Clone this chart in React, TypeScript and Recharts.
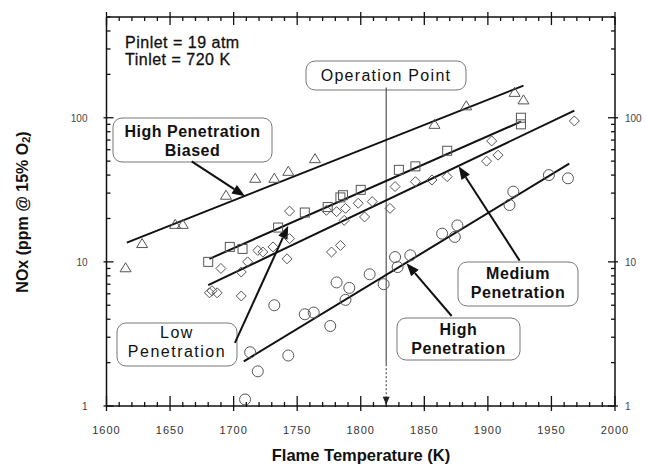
import React from 'react';
import { ComposedChart, XAxis, YAxis, Scatter, Line, ReferenceLine } from 'recharts';

// Measured NOx points (flame temperature K, ppm @ 15% O2)
const biasedPts = [
  { x: 1615, y: 9.1 }, { x: 1628, y: 13.4 }, { x: 1654, y: 18.2 }, { x: 1660, y: 18.2 },
  { x: 1694, y: 29 }, { x: 1717, y: 38 }, { x: 1732, y: 38 }, { x: 1743, y: 42.5 },
  { x: 1764, y: 52 }, { x: 1858, y: 90 }, { x: 1883, y: 121 }, { x: 1921, y: 150 },
  { x: 1928, y: 133 },
];
const lowPts = [
  { x: 1680, y: 10.0 }, { x: 1697, y: 12.7 }, { x: 1707, y: 12.3 }, { x: 1735, y: 17.3 },
  { x: 1756, y: 22 }, { x: 1774, y: 24 }, { x: 1784, y: 28 }, { x: 1786, y: 29 },
  { x: 1800, y: 31.6 }, { x: 1830, y: 43.5 }, { x: 1843, y: 46 }, { x: 1868, y: 59 },
  { x: 1926, y: 100 }, { x: 1926, y: 90 },
];
const mediumPts = [
  { x: 1681, y: 6.1 }, { x: 1687, y: 6.1 }, { x: 1683, y: 6.3 }, { x: 1690, y: 9.0 },
  { x: 1706, y: 8.5 }, { x: 1706, y: 5.8 }, { x: 1711, y: 10 }, { x: 1719, y: 12 },
  { x: 1723, y: 11.7 }, { x: 1731, y: 12.7 }, { x: 1742, y: 10.5 }, { x: 1744, y: 14.5 },
  { x: 1744, y: 22.5 }, { x: 1773, y: 22.8 }, { x: 1777, y: 11.7 }, { x: 1784, y: 13 },
  { x: 1781, y: 22.3 }, { x: 1788, y: 23.5 }, { x: 1787, y: 19.4 }, { x: 1798, y: 25.5 },
  { x: 1803, y: 20.5 }, { x: 1809, y: 26.2 }, { x: 1823, y: 23.5 }, { x: 1827, y: 33.3 },
  { x: 1843, y: 36 }, { x: 1856, y: 37 }, { x: 1868, y: 39 }, { x: 1899, y: 50 },
  { x: 1908, y: 55 }, { x: 1903, y: 69 }, { x: 1968, y: 95 },
];
const highPts = [
  { x: 1709, y: 1.11 }, { x: 1713, y: 2.36 }, { x: 1719, y: 1.74 }, { x: 1732, y: 5.0 },
  { x: 1743, y: 2.24 }, { x: 1756, y: 4.33 }, { x: 1763, y: 4.45 }, { x: 1776, y: 3.59 },
  { x: 1788, y: 5.45 }, { x: 1781, y: 7.2 }, { x: 1791, y: 6.6 }, { x: 1807, y: 8.2 },
  { x: 1818, y: 7.0 }, { x: 1827, y: 10.8 }, { x: 1839, y: 11.1 }, { x: 1829, y: 9.2 },
  { x: 1864, y: 15.7 }, { x: 1874, y: 14.9 }, { x: 1876, y: 17.9 }, { x: 1917, y: 24.8 },
  { x: 1920, y: 30.7 }, { x: 1948, y: 40 }, { x: 1963, y: 38 },
];

// Least-squares fit lines (end points)
const biasedFit = [{ x: 1616, y: 13.6 }, { x: 1928, y: 167 }];
const lowFit = [{ x: 1681, y: 10.5 }, { x: 1926, y: 94 }];
const mediumFit = [{ x: 1680, y: 6.9 }, { x: 1968, y: 112 }];
const highFit = [{ x: 1708, y: 2.04 }, { x: 1964, y: 48 }];

const operationPoint = 1820;

// Axis ticks
const xMajor = [1600, 1650, 1700, 1750, 1800, 1850, 1900, 1950, 2000];
const xMinorSteps = [10, 20, 30, 40];
const xTicks = xMajor.flatMap((v, i) => (i < xMajor.length - 1 ? [v, ...xMinorSteps.map((s) => v + s)] : [v]));
const yTicks = [1, 2, 3, 4, 5, 6, 7, 8, 9, 10, 20, 30, 40, 50, 60, 70, 80, 90, 100, 200, 300, 400, 500];
const yLabels = [1, 10, 100];

const INK = '#111';
const MARK = '#555';
const TICK_FONT = "'Liberation Sans', Arial, sans-serif";

const BottomTick = (p: any) => {
  const { x, y, payload } = p;
  const major = xMajor.includes(payload.value);
  return (
    <g>
      <line x1={x} x2={x} y1={y - (major ? 10 : 4)} y2={y + (major ? 5 : 1)} stroke={INK} strokeWidth={1.3} />
      {major && (
        <text x={x} y={y + 28} textAnchor="middle" fontSize={11} fill="#333" letterSpacing={1} fontFamily={TICK_FONT}>
          {payload.value}
        </text>
      )}
    </g>
  );
};

const TopTick = (p: any) => {
  const { x, y, payload } = p;
  const major = xMajor.includes(payload.value);
  return <line x1={x} x2={x} y1={y - (major ? 5 : 0)} y2={y + (major ? 8 : 4)} stroke={INK} strokeWidth={1.3} />;
};

const LeftTick = (p: any) => {
  const { x, y, payload } = p;
  const major = yLabels.includes(payload.value);
  return (
    <g>
      <line x1={x - (major ? 3 : 0)} x2={x + (major ? 7 : 4)} y1={y} y2={y} stroke={INK} strokeWidth={1.3} />
      {major && (
        <text x={x - 19} y={y + 4} textAnchor="end" fontSize={10} fill="#444" fontFamily={TICK_FONT}>
          {payload.value}
        </text>
      )}
    </g>
  );
};

const RightTick = (p: any) => {
  const { x, y, payload } = p;
  const major = yLabels.includes(payload.value);
  return (
    <g>
      <line x1={x - (major ? 7 : 4)} x2={x + (major ? 3 : 0)} y1={y} y2={y} stroke={INK} strokeWidth={1.3} />
      {major && (
        <text x={x + 10} y={y + 4} textAnchor="start" fontSize={10} fill="#444" fontFamily={TICK_FONT}>
          {payload.value}
        </text>
      )}
    </g>
  );
};

const Triangle = (p: any) => (
  <polygon points={`${p.cx},${p.cy - 5} ${p.cx + 5.5},${p.cy + 4} ${p.cx - 5.5},${p.cy + 4}`} fill="none" stroke={MARK} strokeWidth={1} />
);
const Square = (p: any) => (
  <rect x={p.cx - 4.5} y={p.cy - 4.5} width={9} height={9} fill="none" stroke={MARK} strokeWidth={1} />
);
const Diamond = (p: any) => (
  <polygon points={`${p.cx},${p.cy - 5} ${p.cx + 5},${p.cy} ${p.cx},${p.cy + 5} ${p.cx - 5},${p.cy}`} fill="none" stroke={MARK} strokeWidth={1} />
);
const Circle = (p: any) => <circle cx={p.cx} cy={p.cy} r={5.5} fill="none" stroke={MARK} strokeWidth={1} />;

// Line with a filled arrowhead at its second end point
const Arrow = (p: any) => {
  const { x1, y1, x2, y2 } = p;
  const dx = x2 - x1;
  const dy = y2 - y1;
  const len = Math.sqrt(dx * dx + dy * dy) || 1;
  const ux = dx / len;
  const uy = dy / len;
  const hl = 13;
  const hw = 5;
  const bx = x2 - ux * hl;
  const by = y2 - uy * hl;
  return (
    <g>
      <line x1={x1} y1={y1} x2={bx} y2={by} stroke={INK} strokeWidth={2} />
      <polygon points={`${x2},${y2} ${bx - uy * hw},${by + ux * hw} ${bx + uy * hw},${by - ux * hw}`} fill={INK} />
    </g>
  );
};

const SmallArrow = (p: any) => {
  const { x1, y1, x2, y2 } = p;
  return (
    <g>
      <line x1={x1} y1={y1} x2={x2} y2={y2 - 6} stroke="#333" strokeWidth={1} strokeDasharray="2 2" />
      <polygon points={`${x2},${y2} ${x2 - 3.5},${y2 - 8} ${x2 + 3.5},${y2 - 8}`} fill="#222" />
    </g>
  );
};

const BOX_FONT = "'Liberation Sans', Arial, Helvetica, sans-serif";

const Box = ({ x, y, w, h, lines, weight, spacing }: any) => (
  <g>
    <rect x={x} y={y} width={w} height={h} rx={9} ry={9} fill="#fff" stroke="#777" strokeWidth={1} />
    {lines.map((l: any, i: number) => (
      <text
        key={i}
        x={x + w / 2}
        y={l.y}
        textAnchor="middle"
        fontSize={16}
        fontWeight={weight}
        letterSpacing={spacing}
        fill={INK}
        fontFamily={BOX_FONT}
      >
        {l.t}
      </text>
    ))}
  </g>
);

export default function App() {
  return (
    <div style={{ position: 'absolute', left: 0, top: 0, background: '#fff' }}>
      <ComposedChart width={646} height={465} margin={{ top: 7, right: 1, bottom: 19, left: 46.5 }}>
        <XAxis
          xAxisId="bottom"
          dataKey="x"
          type="number"
          domain={[1600, 2000]}
          ticks={xTicks}
          interval={0}
          tick={<BottomTick />}
          tickSize={0}
          tickMargin={0}
          height={40}
          axisLine={{ stroke: INK, strokeWidth: 1.5 }}
          allowDataOverflow
        />
        <XAxis
          xAxisId="top"
          orientation="top"
          dataKey="x"
          type="number"
          domain={[1600, 2000]}
          ticks={xTicks}
          interval={0}
          tick={<TopTick />}
          tickSize={0}
          tickMargin={0}
          height={10}
          axisLine={{ stroke: INK, strokeWidth: 1.5 }}
          allowDataOverflow
        />
        <YAxis
          yAxisId="left"
          dataKey="y"
          type="number"
          scale="log"
          domain={[1, 500]}
          ticks={yTicks}
          interval={0}
          tick={<LeftTick />}
          tickSize={0}
          tickMargin={0}
          width={60}
          axisLine={{ stroke: INK, strokeWidth: 1.5 }}
          allowDataOverflow
        />
        <YAxis
          yAxisId="right"
          orientation="right"
          dataKey="y"
          type="number"
          scale="log"
          domain={[1, 500]}
          ticks={yTicks}
          interval={0}
          tick={<RightTick />}
          tickSize={0}
          tickMargin={0}
          width={30}
          axisLine={{ stroke: INK, strokeWidth: 1.5 }}
          allowDataOverflow
        />

        {/* operation point marker */}
        <ReferenceLine
          xAxisId="bottom"
          yAxisId="left"
          segment={[{ x: operationPoint, y: 162 }, { x: operationPoint, y: 1.95 }]}
          stroke="#333"
          strokeWidth={1}
        />
        <ReferenceLine
          xAxisId="bottom"
          yAxisId="left"
          segment={[{ x: operationPoint, y: 1.95 }, { x: operationPoint, y: 1.02 }]}
          shape={<SmallArrow />}
        />

        <Line xAxisId="bottom" yAxisId="left" data={biasedFit} dataKey="y" type="linear" stroke={INK} strokeWidth={2} dot={false} isAnimationActive={false} />
        <Line xAxisId="bottom" yAxisId="left" data={lowFit} dataKey="y" type="linear" stroke={INK} strokeWidth={2} dot={false} isAnimationActive={false} />
        <Line xAxisId="bottom" yAxisId="left" data={mediumFit} dataKey="y" type="linear" stroke={INK} strokeWidth={2} dot={false} isAnimationActive={false} />
        <Line xAxisId="bottom" yAxisId="left" data={highFit} dataKey="y" type="linear" stroke={INK} strokeWidth={2} dot={false} isAnimationActive={false} />

        <Scatter xAxisId="bottom" yAxisId="left" data={biasedPts} dataKey="y" shape={<Triangle />} isAnimationActive={false} />
        <Scatter xAxisId="bottom" yAxisId="left" data={lowPts} dataKey="y" shape={<Square />} isAnimationActive={false} />
        <Scatter xAxisId="bottom" yAxisId="left" data={mediumPts} dataKey="y" shape={<Diamond />} isAnimationActive={false} />
        <Scatter xAxisId="bottom" yAxisId="left" data={highPts} dataKey="y" shape={<Circle />} isAnimationActive={false} />

        {/* callout arrows */}
        <ReferenceLine xAxisId="bottom" yAxisId="left" segment={[{ x: 1667, y: 49.8 }, { x: 1709, y: 28.5 }]} shape={<Arrow />} />
        <ReferenceLine xAxisId="bottom" yAxisId="left" segment={[{ x: 1701, y: 2.74 }, { x: 1743, y: 17.8 }]} shape={<Arrow />} />
        <ReferenceLine xAxisId="bottom" yAxisId="left" segment={[{ x: 1925, y: 10.2 }, { x: 1877, y: 46 }]} shape={<Arrow />} />
        <ReferenceLine xAxisId="bottom" yAxisId="left" segment={[{ x: 1871.5, y: 4.21 }, { x: 1836, y: 9.8 }]} shape={<Arrow />} />

        {/* callout boxes */}
        <Box x={306} y={61} w={160} h={29} weight="normal" spacing={1.3} lines={[{ t: 'Operation Point', y: 81 }]} />
        <Box
          x={113}
          y={118}
          w={159}
          h={44}
          weight="bold"
          spacing={0.5}
          lines={[{ t: 'High Penetration', y: 137 }, { t: 'Biased', y: 156 }]}
        />
        <Box
          x={117}
          y={323}
          w={120}
          h={43}
          weight="normal"
          spacing={1.5}
          lines={[{ t: 'Low', y: 338 }, { t: 'Penetration', y: 357 }]}
        />
        <Box
          x={458}
          y={262}
          w={120}
          h={44}
          weight="bold"
          spacing={0.6}
          lines={[{ t: 'Medium', y: 279 }, { t: 'Penetration', y: 298 }]}
        />
        <Box
          x={397}
          y={318}
          w={123}
          h={42}
          weight="bold"
          spacing={0.6}
          lines={[{ t: 'High', y: 335 }, { t: 'Penetration', y: 354 }]}
        />

        <text x={125} y={48} fontSize={16} fill={INK} stroke={INK} strokeWidth={0.3} letterSpacing={0.5} fontFamily={BOX_FONT}>
          Pinlet = 19 atm
        </text>
        <text x={125} y={65} fontSize={16} fill={INK} stroke={INK} strokeWidth={0.3} letterSpacing={0.5} fontFamily={BOX_FONT}>
          Tinlet = 720 K
        </text>

        <text x={361} y={461} textAnchor="middle" fontSize={16.5} fontWeight="bold" fill={INK} fontFamily={BOX_FONT}>
          Flame Temperature (K)
        </text>
        <text
          x={22}
          y={212}
          transform="rotate(-90 22 212)"
          textAnchor="middle"
          dominantBaseline="central"
          fontSize={16}
          fontWeight="bold"
          fill={INK}
          fontFamily={BOX_FONT}
        >
          <tspan>NOx (ppm @ 15% O</tspan>
          <tspan fontSize={11} dy={4}>2</tspan>
          <tspan dy={-4}>)</tspan>
        </text>
      </ComposedChart>
    </div>
  );
}
